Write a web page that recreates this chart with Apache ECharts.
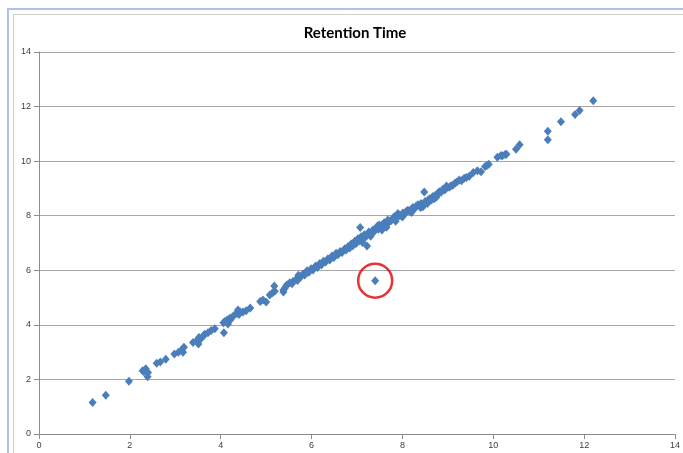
<!DOCTYPE html>
<html>
<head>
<meta charset="utf-8">
<title>Retention Time</title>
<script src="https://cdn.jsdelivr.net/npm/echarts@6/dist/echarts.min.js"></script>
<style>
  html, body { margin: 0; padding: 0; background: #fff; }
  #chart { width: 683px; height: 453px; }
</style>
</head>
<body>
<div id="chart"></div>
<script>
// values (x = run A, y = run B, minutes)
var rtX = [
  1.18, 1.47, 1.98, 2.28, 2.31, 2.35, 2.40, 2.39, 2.59, 2.67,
  2.79, 2.98, 3.07, 3.14, 3.17, 3.19, 3.39, 3.47, 3.51, 3.52,
  3.57, 3.63, 3.65, 3.72, 3.79, 3.87, 4.07, 4.09, 4.06, 4.14,
  4.16, 4.20, 4.26, 4.22, 4.33, 4.38, 4.43, 4.40, 4.49, 4.56,
  4.65, 4.87, 4.93, 5.00, 5.08, 5.14, 5.18, 5.19, 5.38, 5.38,
  5.41, 5.44, 5.46, 5.52, 5.57, 5.59, 5.66, 5.69, 5.71, 5.76,
  5.81, 5.85, 5.90, 5.94, 5.99, 6.03, 6.09, 6.13, 6.18, 6.22,
  6.26, 6.31, 6.36, 6.40, 6.45, 6.49, 6.54, 6.58, 6.63, 6.67,
  6.73, 6.76, 6.80, 6.84, 6.87, 6.91, 6.95, 6.98, 7.02, 7.05,
  7.07, 7.09, 7.11, 7.12, 7.13, 7.16, 7.19, 7.22, 7.26, 7.28,
  7.30, 7.31, 7.35, 7.38, 7.40, 7.44, 7.45, 7.47, 7.49, 7.53,
  7.55, 7.56, 7.60, 7.63, 7.65, 7.68, 7.71, 7.75, 7.79, 7.82,
  7.85, 7.86, 7.90, 7.94, 7.97, 8.00, 8.01, 8.05, 8.08, 8.12,
  8.16, 8.19, 8.20, 8.23, 8.27, 8.30, 8.34, 8.38, 8.40, 8.41,
  8.45, 8.48, 8.50, 8.55, 8.56, 8.60, 8.64, 8.67, 8.70, 8.72,
  8.75, 8.78, 8.81, 8.85, 8.89, 8.93, 8.96, 8.97, 9.03, 9.07,
  9.11, 9.16, 9.20, 9.25, 9.30, 9.36, 9.41, 9.47, 9.56, 9.65,
  9.73, 9.82, 9.86, 9.90, 10.09, 10.17, 10.20, 10.26, 10.29, 10.50,
  10.58, 11.20, 11.20, 11.49, 11.80, 11.90, 12.20
];
var rtY = [
  1.15, 1.42, 1.93, 2.32, 2.28, 2.39, 2.25, 2.10, 2.59, 2.64,
  2.74, 2.93, 3.00, 3.08, 3.00, 3.18, 3.35, 3.42, 3.30, 3.54,
  3.50, 3.62, 3.66, 3.71, 3.79, 3.86, 3.71, 4.12, 4.08, 4.18,
  4.03, 4.24, 4.30, 4.20, 4.40, 4.54, 4.47, 4.38, 4.47, 4.52,
  4.62, 4.86, 4.91, 4.84, 5.09, 5.18, 5.42, 5.23, 5.20, 5.28,
  5.34, 5.42, 5.47, 5.54, 5.51, 5.59, 5.67, 5.63, 5.82, 5.75,
  5.86, 5.83, 5.98, 5.93, 6.06, 6.01, 6.16, 6.10, 6.25, 6.20,
  6.33, 6.30, 6.42, 6.38, 6.52, 6.47, 6.62, 6.57, 6.69, 6.65,
  6.79, 6.74, 6.86, 6.82, 6.96, 6.90, 7.06, 6.98, 7.16, 7.08,
  7.57, 7.23, 7.12, 7.02, 7.17, 7.30, 7.22, 6.89, 7.40, 7.32,
  7.25, 7.36, 7.48, 7.42, 5.62, 7.57, 7.62, 7.50, 7.66, 7.60,
  7.48, 7.68, 7.74, 7.70, 7.58, 7.84, 7.78, 7.82, 7.90, 7.96,
  7.80, 7.92, 8.08, 8.00, 8.02, 7.95, 8.10, 8.06, 8.15, 8.20,
  8.16, 8.23, 8.12, 8.30, 8.26, 8.35, 8.40, 8.36, 8.30, 8.45,
  8.33, 8.87, 8.52, 8.45, 8.57, 8.62, 8.58, 8.70, 8.62, 8.74,
  8.69, 8.82, 8.88, 8.86, 8.97, 8.94, 9.00, 9.09, 9.04, 9.10,
  9.12, 9.20, 9.24, 9.31, 9.28, 9.37, 9.40, 9.45, 9.58, 9.65,
  9.61, 9.80, 9.84, 9.89, 10.14, 10.21, 10.20, 10.24, 10.25, 10.44,
  10.60, 11.10, 10.78, 11.44, 11.71, 11.86, 12.21
];
// the circled outlier
var flagged = [[7.40, 5.62]];
var axisTicks = [0, 2, 4, 6, 8, 10, 12, 14];

var points = rtX.map(function(x, i) { return [x, rtY[i]] });

var chart = echarts.init(document.getElementById('chart'), null, { renderer: 'canvas' });

var axisFont = { color: '#404040', fontSize: 9, fontFamily: 'Liberation Sans, sans-serif' };

chart.setOption({
  animation: false,
  backgroundColor: '#fff',
  title: {
    text: 'Retention Time',
    left: 350,
    top: 21,
    textAlign: 'center',
    textStyle: { fontSize: 15, fontWeight: 'bold', color: '#000', fontFamily: 'Lato, sans-serif' }
  },
  // excel style chart frame
  graphic: [
    { type: 'rect', shape: { x: 8, y: 9, width: 700, height: 460 },
      style: { fill: 'none', stroke: '#a9c4e8', lineWidth: 2 }, silent: true },
    { type: 'rect', shape: { x: 13.5, y: 14.5, width: 700, height: 460 },
      style: { fill: 'none', stroke: '#cfcfcf', lineWidth: 1 }, silent: true }
  ],
  grid: { left: 39, right: 7, top: 52, bottom: 19, containLabel: false },
  xAxis: {
    type: 'value',
    min: axisTicks[0],
    max: axisTicks[axisTicks.length - 1],
    interval: 2,
    axisLine: { show: true, lineStyle: { color: '#8c8c8c', width: 1 } },
    axisTick: { show: true, length: 5, lineStyle: { color: '#8c8c8c' } },
    axisLabel: Object.assign({ margin: 7 }, axisFont),
    splitLine: { show: false }
  },
  yAxis: {
    type: 'value',
    min: axisTicks[0],
    max: axisTicks[axisTicks.length - 1],
    interval: 2,
    axisLine: { show: true, lineStyle: { color: '#8c8c8c', width: 1 } },
    axisTick: { show: true, length: 5, lineStyle: { color: '#8c8c8c' } },
    axisLabel: Object.assign({ margin: 8 }, axisFont),
    splitLine: { show: true, lineStyle: { color: '#a6a6a6', width: 1 } }
  },
  series: [
    {
      type: 'scatter',
      data: points,
      symbol: 'diamond',
      symbolSize: [8, 9],
      itemStyle: { color: '#4a7ebb', opacity: 1 }
    },
    {
      // red ring round the outlier
      type: 'scatter',
      data: flagged,
      symbol: 'circle',
      symbolSize: 34,
      z: 3,
      itemStyle: { color: 'rgba(0,0,0,0)', borderColor: '#e00000', borderWidth: 2.5 }
    }
  ]
})
</script>
</body>
</html>
